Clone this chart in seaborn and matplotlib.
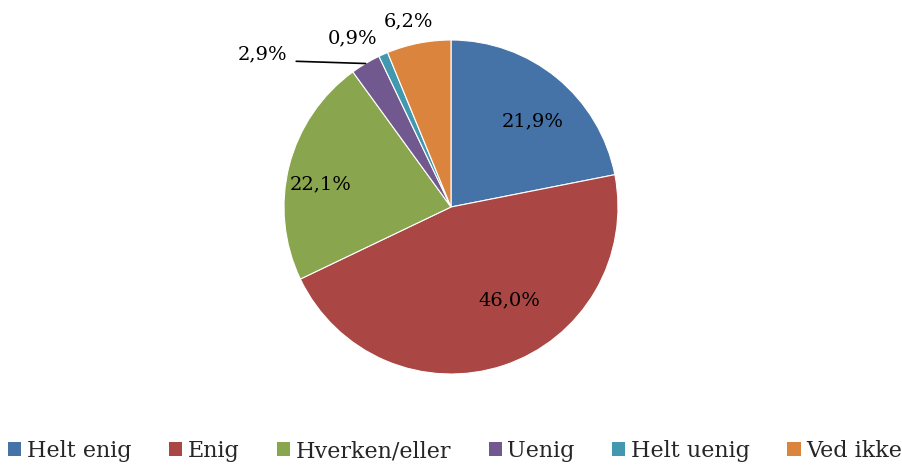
import numpy as np
import matplotlib
matplotlib.use("Agg")
import matplotlib.pyplot as plt
import seaborn as sns
from matplotlib.patches import Patch

# data
categories = ["Helt enig", "Enig", "Hverken/eller", "Uenig", "Helt uenig", "Ved ikke"]
shares = [21.9, 46.0, 22.1, 2.9, 0.9, 6.2]
colors = ["#4572A7", "#AA4643", "#89A54E", "#71588F", "#4198AF", "#DB843D"]

sns.set_style("white")
plt.rcParams["font.family"] = ["DejaVu Serif"]

fig = plt.figure(figsize=(9.03, 4.66), dpi=100)
# pie centre ~ (451, 207) px, radius ~167 px
cx, cy, r = 451, 207, 167
ax = fig.add_axes([(cx - r) / 903, (466 - cy - r) / 466, 2 * r / 903, 2 * r / 466])

wedges, _ = ax.pie(shares, colors=sns.color_palette(colors), startangle=90,
                   counterclock=False,
                   wedgeprops=dict(edgecolor="white", linewidth=0.8))
ax.set_xlim(-1, 1)
ax.set_ylim(-1, 1)
ax.set_aspect("equal")
ax.axis("off")

def fmt(v):
    return f"{v:.1f}".replace(".", ",") + "%"

# label placement: (radius factor, angle in degrees) per slice
label_pos = [(0.71, 46.4), (0.66, -58.0), (0.79, 170.0),
             (1.45, 141.0), (1.17, 120.4), (1.14, 102.8)]
for w, v, (rf, ang) in zip(wedges, shares, label_pos):
    t = np.deg2rad(ang)
    ax.text(rf * np.cos(t), rf * np.sin(t), fmt(v), ha="center", va="center",
            fontsize=14, color="black", clip_on=False)

# leader line for the small purple slice
w = wedges[3]
mid = np.deg2rad((w.theta1 + w.theta2) / 2)
t = np.deg2rad(141.0)
ax.plot([1.45 * np.cos(t) + 0.2, np.cos(mid)], [1.45 * np.sin(t) - 0.04, np.sin(mid)],
        color="black", lw=1.2, clip_on=False)

handles = [Patch(facecolor=c, edgecolor="none") for c in colors]
fig.legend(handles, categories, loc="center left", bbox_to_anchor=(0.009, 0.032),
           ncol=6, frameon=False, fontsize=16, handlelength=0.6, handleheight=0.6,
           handletextpad=0.25, columnspacing=1.68, borderaxespad=0, borderpad=0)

fig.savefig("out.png", dpi=100)
